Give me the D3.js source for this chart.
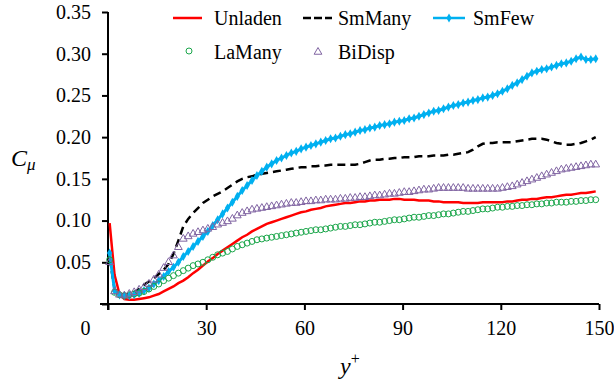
<!DOCTYPE html>
<html><head><meta charset="utf-8">
<script src="https://cdn.jsdelivr.net/npm/d3@7"></script>
<style>
body{margin:0;background:#fff}svg{display:block}
svg text{font-family:"Liberation Serif","DejaVu Serif",serif}
</style>
</head><body><svg id="c" width="614" height="382"></svg>
<script>
const yPlus = [0.5,2,3.5,5,6.5,8,9.5,11,12.5,14,15.5,17,18.5,20,21.5,23,24.5,26,27.5,29,30.5,32,33.5,35,36.5,38,39.5,41,42.5,44,45.5,47,48.5,50,51.5,53,54.5,56,57.5,59,60.5,62,63.5,65,66.5,68,69.5,71,72.5,74,75.5,77,78.5,80,81.5,83,84.5,86,87.5,89,90.5,92,93.5,95,96.5,98,99.5,101,102.5,104,105.5,107,108.5,110,111.5,113,114.5,116,117.5,119,120.5,122,123.5,125,126.5,128,129.5,131,132.5,134,135.5,137,138.5,140,141.5,143,144.5,146,147.5,149];
const unladen = [0.097,0.035,0.012,0.006,0.005,0.005,0.006,0.007,0.008,0.010,0.012,0.015,0.018,0.021,0.025,0.028,0.032,0.037,0.041,0.046,0.051,0.055,0.060,0.064,0.068,0.072,0.076,0.080,0.083,0.087,0.090,0.093,0.096,0.098,0.100,0.102,0.104,0.106,0.108,0.110,0.111,0.113,0.114,0.115,0.117,0.118,0.119,0.120,0.121,0.121,0.122,0.123,0.123,0.124,0.124,0.125,0.125,0.125,0.126,0.126,0.125,0.125,0.125,0.124,0.124,0.124,0.123,0.123,0.122,0.122,0.122,0.122,0.121,0.121,0.121,0.121,0.122,0.122,0.122,0.122,0.122,0.123,0.123,0.124,0.125,0.125,0.126,0.126,0.127,0.128,0.128,0.129,0.130,0.131,0.131,0.132,0.133,0.133,0.134,0.135];
const smMany = [0.055,0.018,0.012,0.011,0.012,0.014,0.018,0.023,0.027,0.031,0.036,0.041,0.048,0.060,0.076,0.093,0.102,0.109,0.115,0.121,0.125,0.129,0.132,0.135,0.139,0.143,0.147,0.150,0.152,0.153,0.155,0.156,0.157,0.158,0.159,0.160,0.161,0.162,0.163,0.164,0.164,0.165,0.165,0.166,0.166,0.167,0.167,0.167,0.167,0.167,0.167,0.168,0.170,0.172,0.173,0.173,0.174,0.174,0.175,0.175,0.176,0.176,0.176,0.177,0.177,0.177,0.178,0.178,0.178,0.179,0.179,0.180,0.181,0.182,0.185,0.189,0.192,0.193,0.193,0.194,0.194,0.194,0.194,0.195,0.196,0.197,0.198,0.198,0.198,0.197,0.195,0.193,0.192,0.191,0.191,0.192,0.193,0.195,0.197,0.200];
const smFew = [0.061,0.016,0.011,0.010,0.010,0.011,0.013,0.016,0.019,0.024,0.028,0.033,0.039,0.044,0.050,0.057,0.063,0.069,0.075,0.081,0.087,0.094,0.101,0.108,0.115,0.122,0.129,0.136,0.142,0.148,0.154,0.159,0.164,0.168,0.172,0.175,0.178,0.181,0.183,0.186,0.188,0.190,0.192,0.194,0.196,0.198,0.199,0.201,0.203,0.204,0.206,0.208,0.209,0.211,0.212,0.214,0.215,0.216,0.218,0.219,0.220,0.222,0.223,0.225,0.227,0.229,0.231,0.232,0.234,0.236,0.238,0.239,0.241,0.242,0.244,0.245,0.247,0.248,0.250,0.252,0.255,0.258,0.262,0.265,0.269,0.273,0.277,0.279,0.281,0.282,0.284,0.286,0.288,0.289,0.291,0.294,0.296,0.293,0.293,0.294];
const laMany = [0.053,0.014,0.011,0.010,0.011,0.012,0.013,0.015,0.018,0.021,0.024,0.028,0.031,0.034,0.037,0.040,0.043,0.046,0.048,0.050,0.053,0.056,0.059,0.061,0.063,0.066,0.069,0.071,0.073,0.075,0.077,0.078,0.079,0.080,0.081,0.082,0.083,0.084,0.085,0.086,0.087,0.088,0.089,0.089,0.090,0.091,0.092,0.093,0.093,0.094,0.095,0.095,0.096,0.097,0.098,0.098,0.099,0.100,0.101,0.101,0.102,0.103,0.104,0.104,0.105,0.106,0.106,0.107,0.108,0.108,0.109,0.110,0.111,0.111,0.112,0.113,0.114,0.114,0.115,0.116,0.116,0.117,0.117,0.118,0.118,0.119,0.119,0.120,0.120,0.121,0.121,0.122,0.122,0.122,0.123,0.123,0.124,0.124,0.125,0.125];
const biDisp = [0.050,0.015,0.011,0.010,0.012,0.014,0.017,0.020,0.024,0.029,0.035,0.043,0.050,0.058,0.068,0.078,0.081,0.084,0.086,0.088,0.090,0.092,0.095,0.097,0.099,0.102,0.106,0.109,0.111,0.113,0.114,0.115,0.116,0.117,0.118,0.119,0.120,0.121,0.121,0.122,0.123,0.123,0.124,0.124,0.125,0.125,0.125,0.126,0.126,0.127,0.127,0.128,0.128,0.129,0.130,0.130,0.131,0.132,0.132,0.133,0.134,0.134,0.135,0.136,0.137,0.137,0.138,0.139,0.139,0.139,0.139,0.139,0.139,0.138,0.138,0.138,0.138,0.138,0.138,0.138,0.139,0.140,0.141,0.143,0.145,0.147,0.149,0.151,0.153,0.155,0.157,0.159,0.161,0.162,0.163,0.164,0.165,0.166,0.167,0.167];
const xTicks = [0,30,60,90,120,150];
const yTicks = [0,0.05,0.10,0.15,0.20,0.25,0.30,0.35];
const seriesNames = ["Unladen","SmMany","SmFew","LaMany","BiDisp"];

const svg = d3.select("#c");
const x = d3.scaleLinear().domain([0,150]).range([108,599]);
const y = d3.scaleLinear().domain([0,0.35]).range([304,12]);

const pts = arr => arr.map((v,i)=>[yPlus[i],v]);
const line = d3.line().x(d=>x(d[0])).y(d=>y(d[1]));

const colors = {red:"#ff0000", blue:"#00b0f0", green:"#1aa64a", purple:"#8064a2"};

// axes
const xAxis = svg.append("g").attr("transform","translate(0,304)")
  .call(d3.axisBottom(x).tickValues(xTicks).tickFormat(d3.format("d")).tickSizeOuter(0).tickSize(6));
const yAxis = svg.append("g").attr("transform","translate(108,0)")
  .call(d3.axisLeft(y).tickValues(yTicks).tickFormat(d=>d===0?"":d3.format(".2f")(d)).tickSizeOuter(0).tickSize(6));
[xAxis,yAxis].forEach(g=>{
  g.attr("font-family",null).attr("font-size",20);
  g.selectAll("path.domain").attr("stroke","#000").attr("stroke-width",2);
  g.selectAll(".tick line").attr("stroke","#000").attr("stroke-width",2);
  g.selectAll(".tick text").attr("fill","#000");
});
xAxis.select("path.domain").attr("d","M100,0H599");
yAxis.select("path.domain").attr("d","M0,12V310");
xAxis.selectAll(".tick text").attr("y",17);
xAxis.selectAll(".tick").filter(d=>d===0).select("text").attr("dx",-23);
yAxis.selectAll(".tick text").attr("x",-17);

// series
svg.append("path").datum(pts(unladen)).attr("d",line)
  .attr("fill","none").attr("stroke",colors.red).attr("stroke-width",2.5);
svg.append("path").datum(pts(smMany)).attr("d",line)
  .attr("fill","none").attr("stroke","#000").attr("stroke-width",2.5).attr("stroke-dasharray","8,5");
svg.append("path").datum(pts(smFew)).attr("d",line)
  .attr("fill","none").attr("stroke",colors.blue).attr("stroke-width",3);
const diamond = d3.symbol().type(d3.symbolDiamond).size(24);
svg.append("g").selectAll("path").data(pts(smFew)).join("path")
  .attr("d",diamond).attr("transform",d=>`translate(${x(d[0])},${y(d[1])})`)
  .attr("fill",colors.blue);
svg.append("g").selectAll("circle").data(pts(laMany)).join("circle")
  .attr("cx",d=>x(d[0])).attr("cy",d=>y(d[1])).attr("r",3)
  .attr("fill","none").attr("stroke",colors.green).attr("stroke-width",1);
const tri = d3.symbol().type(d3.symbolTriangle).size(26);
svg.append("g").selectAll("path").data(pts(biDisp)).join("path")
  .attr("d",tri).attr("transform",d=>`translate(${x(d[0])},${y(d[1])})`)
  .attr("fill","none").attr("stroke",colors.purple).attr("stroke-width",1);

// legend
const lg = svg.append("g").attr("fill","#000").attr("font-size",20);
const row1 = 18, row2 = 52;
lg.append("line").attr("x1",173).attr("x2",202).attr("y1",row1).attr("y2",row1).attr("stroke",colors.red).attr("stroke-width",2.5);
lg.append("text").attr("x",214).attr("y",row1+7).text(seriesNames[0]);
lg.append("line").attr("x1",303).attr("x2",332).attr("y1",row1).attr("y2",row1).attr("stroke","#000").attr("stroke-width",2.5).attr("stroke-dasharray","8,3");
lg.append("text").attr("x",338).attr("y",row1+7).text(seriesNames[1]);
lg.append("line").attr("x1",433).attr("x2",465).attr("y1",row1).attr("y2",row1).attr("stroke",colors.blue).attr("stroke-width",2.5);
lg.append("path").attr("d",diamond).attr("transform",`translate(449,${row1})`).attr("fill",colors.blue);
lg.append("text").attr("x",473).attr("y",row1+7).text(seriesNames[2]);
lg.append("circle").attr("cx",189).attr("cy",row2-1).attr("r",3).attr("fill","none").attr("stroke",colors.green).attr("stroke-width",1);
lg.append("text").attr("x",214).attr("y",row2+7).text(seriesNames[3]);
lg.append("path").attr("d",tri).attr("transform",`translate(318,${row2})`).attr("fill","none").attr("stroke",colors.purple).attr("stroke-width",1);
lg.append("text").attr("x",338).attr("y",row2+7).text(seriesNames[4]);

// axis titles
const yl = svg.append("text").attr("fill","#000").attr("x",11).attr("y",166);
yl.append("tspan").attr("font-style","italic").attr("font-size",24).text("C");
yl.append("tspan").attr("font-style","italic").attr("font-size",17).attr("dy",4).text("μ");
const xl = svg.append("text").attr("fill","#000").attr("x",340).attr("y",374);
xl.append("tspan").attr("font-style","italic").attr("font-size",24).text("y");
xl.append("tspan").attr("font-size",16).attr("dy",-10).text("+");
</script></body></html>
